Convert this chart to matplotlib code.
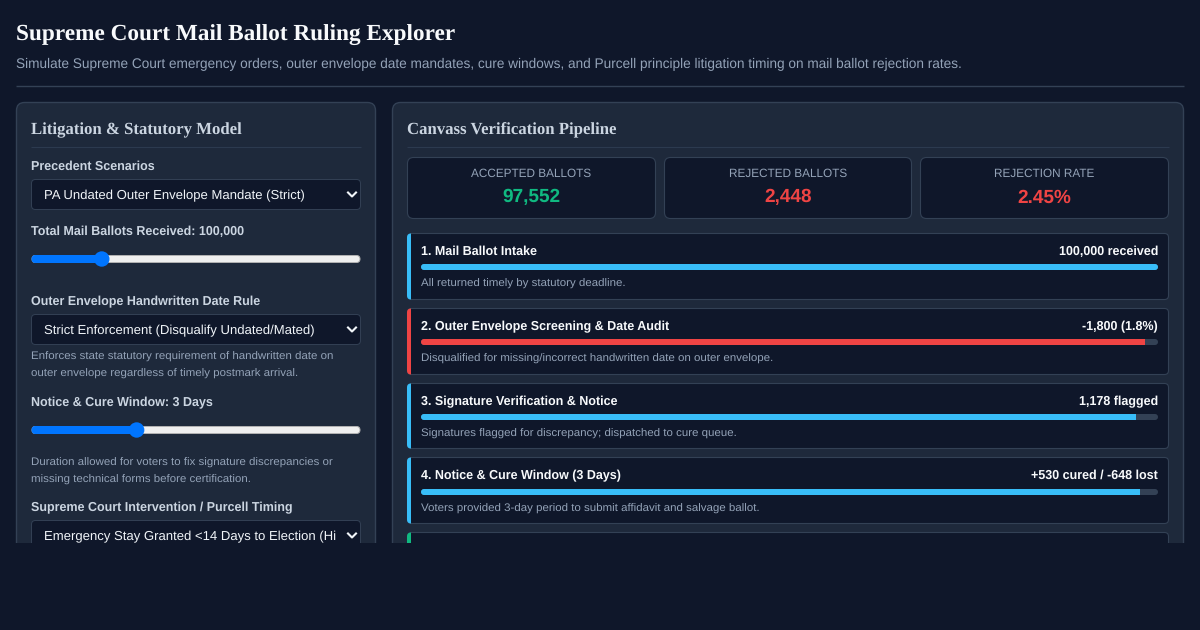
import matplotlib
matplotlib.use("Agg")
import matplotlib.pyplot as plt
from matplotlib.patches import Circle, FancyBboxPatch, Rectangle

plt.rcParams["text.hinting"] = "no_hinting"
plt.rcParams["text.hinting_factor"] = 8

BG = "#0f172a"
PANEL = "#1e293b"
BORDER = "#334155"
MUTED = "#94a3b8"
LABEL = "#cbd5e1"
WHITE = "#f8fafc"
BLUE = "#38bdf8"
RED = "#ef4444"
GREEN = "#10b981"
SANS = "Liberation Sans"
SERIF = "Liberation Serif"

TITLE = "Supreme Court Mail Ballot Ruling Explorer"
SUBTITLE = ("Simulate Supreme Court emergency orders, outer envelope date mandates, "
            "cure windows, and Purcell principle litigation timing on mail ballot rejection rates.")

kpi_labels = ["ACCEPTED BALLOTS", "REJECTED BALLOTS", "REJECTION RATE"]
kpi_values = ["97,552", "2,448", "2.45%"]
kpi_colors = [GREEN, RED, RED]

step_titles = ["1. Mail Ballot Intake", "2. Outer Envelope Screening & Date Audit",
               "3. Signature Verification & Notice", "4. Notice & Cure Window (3 Days)"]
step_results = ["100,000 received", "-1,800 (1.8%)", "1,178 flagged", "+530 cured / -648 lost"]
step_notes = ["All returned timely by statutory deadline.",
              "Disqualified for missing/incorrect handwritten date on outer envelope.",
              "Signatures flagged for discrepancy; dispatched to cure queue.",
              "Voters provided 3-day period to submit affidavit and salvage ballot."]
step_remaining = [100.0, 98.2, 97.02, 97.55]
step_colors = [BLUE, RED, BLUE, BLUE]

ballot_slider = 0.2
cure_slider = 0.311

LABEL_PX = 12.5
NOTE_PX = 11.5


def px(size):
    return size * 0.72


def box(ax, x0, y0, x1, y1, face, edge=BORDER, radius=6, lw=0.8, z=1):
    patch = FancyBboxPatch((x0, y0), x1 - x0, y1 - y0,
                           boxstyle=f"round,pad=0,rounding_size={radius}",
                           fc=face, ec=edge, lw=lw, zorder=z)
    ax.add_patch(patch)
    return patch


def label(ax, x, y, s, size=LABEL_PX, color=LABEL, weight="normal", family=SANS, ha="left"):
    ax.text(x, y, s, fontsize=px(size), color=color, fontweight=weight, family=family,
            ha=ha, va="baseline", zorder=5)


def rule(ax, x0, x1, y, lw=0.8, color=BORDER):
    ax.plot([x0, x1], [y, y], color=color, lw=lw, solid_capstyle="butt", zorder=2)


def select(ax, y0, s):
    box(ax, 31.5, y0, 360.5, y0 + 30, BG, radius=4, lw=0.7)
    label(ax, 44, y0 + 20, s, size=13.1, color="#f1f5f9")
    xc, yc = 352, y0 + 15
    ax.plot([xc - 4, xc, xc + 4], [yc - 2, yc + 2, yc - 2], color="#f1f5f9", lw=1.5, zorder=5)


def slider(ax, y, frac):
    box(ax, 32, y - 3.5, 360, y + 3.5, "#efefef", edge="#b2b2b2", radius=3.5, lw=0.7, z=2)
    xt = 39 + frac * 314
    box(ax, 32, y - 3.5, xt, y + 3.5, "#0075ff", edge="#0075ff", radius=3.5, lw=0.7, z=3)
    ax.add_patch(Circle((xt, y), 7.7, fc="#0075ff", ec="none", zorder=4))


fig = plt.figure(figsize=(12, 6.3), dpi=100, facecolor=BG)
ax = fig.add_axes([0, 0, 1, 1])
ax.set_xlim(0, 1200)
ax.set_ylim(630, 0)
ax.axis("off")

# header
label(ax, 16, 40.7, TITLE, size=23.2, color=WHITE, weight="bold", family=SERIF)
label(ax, 16, 68, SUBTITLE, size=13.58, color=MUTED)
rule(ax, 16, 1184, 85.5, lw=1)

# left panel
box(ax, 16.5, 102.5, 375.5, 640, PANEL, radius=8, lw=1)
label(ax, 31, 134, "Litigation & Statutory Model", size=16.7, color=LABEL, weight="bold", family=SERIF)
rule(ax, 31, 361, 146.5, color="#2c3a4f")

label(ax, 31, 170, "Precedent Scenarios", weight="bold")
select(ax, 179.5, "PA Undated Outer Envelope Mandate (Strict)")
label(ax, 31, 235, "Total Mail Ballots Received: 100,000", weight="bold")
slider(ax, 259, ballot_slider)

label(ax, 31, 305.5, "Outer Envelope Handwritten Date Rule", weight="bold")
select(ax, 314.5, "Strict Enforcement (Disqualify Undated/Mated)")
label(ax, 31, 359.5, "Enforces state statutory requirement of handwritten date on", size=NOTE_PX, color=MUTED)
label(ax, 31, 376.5, "outer envelope regardless of timely postmark arrival.", size=NOTE_PX, color=MUTED)

label(ax, 31, 406.5, "Notice & Cure Window: 3 Days", weight="bold")
slider(ax, 430, cure_slider)
label(ax, 31, 465.5, "Duration allowed for voters to fix signature discrepancies or", size=NOTE_PX, color=MUTED)
label(ax, 31, 482.5, "missing technical forms before certification.", size=NOTE_PX, color=MUTED)

label(ax, 31, 511.5, "Supreme Court Intervention / Purcell Timing", weight="bold")
select(ax, 520.5, "Emergency Stay Granted <14 Days to Election (Hi")

# right panel
box(ax, 392.5, 102.5, 1183.5, 640, PANEL, radius=8, lw=1)
label(ax, 407, 134, "Canvass Verification Pipeline", size=16.7, color=LABEL, weight="bold", family=SERIF)
rule(ax, 407, 1169, 146.5, color="#2c3a4f")

kpi_left = [407.5, 664.5, 920.5]
kpi_right = [655.5, 911.5, 1168.5]
for x0, x1, name, value, color in zip(kpi_left, kpi_right, kpi_labels, kpi_values, kpi_colors):
    box(ax, x0, 157.5, x1, 218.5, BG, radius=6, lw=0.8, z=2)
    label(ax, (x0 + x1) / 2, 177, name, size=11.7, color=MUTED, ha="center")
    label(ax, (x0 + x1) / 2, 202.5, value, size=19, color=color, weight="bold", ha="center")

# pipeline steps
card_tops = [233.5, 308.5, 383.5, 457.5]
card_bottoms = [299.5, 374.5, 448.5, 523.5]
bar_tops = [264, 339, 414, 489]
for i in range(4):
    top, bottom = card_tops[i], card_bottoms[i]
    box(ax, 407.5, top, 1168.5, bottom, BG, radius=4, lw=0.8, z=2)
    accent = box(ax, 407, top, 1168, bottom, step_colors[i], edge="none", radius=4, z=3)
    accent.set_clip_path(Rectangle((407, top - 1), 4, bottom - top + 2, transform=ax.transData))
    label(ax, 421, top + 21.7, step_titles[i], color=WHITE, weight="bold")
    label(ax, 1158, top + 21.7, step_results[i], color=WHITE, weight="bold", ha="right")
    bar_y = bar_tops[i]
    box(ax, 421, bar_y, 1158, bar_y + 6, BORDER, edge="none", radius=3, z=3)
    fill = box(ax, 421, bar_y, 1158, bar_y + 6, step_colors[i], edge="none", radius=3, z=4)
    fill.set_clip_path(Rectangle((421, bar_y - 1), 737 * step_remaining[i] / 100, 8, transform=ax.transData))
    label(ax, 421, bar_y + 22.5, step_notes[i], size=NOTE_PX, color=MUTED)

# fifth card, cut off by the page fold
box(ax, 407.5, 532.5, 1168.5, 600, BG, radius=4, lw=0.8, z=2)
fifth = box(ax, 407, 532.5, 1168, 600, GREEN, edge="none", radius=4, z=3)
fifth.set_clip_path(Rectangle((407, 531), 4, 70, transform=ax.transData))

ax.add_patch(Rectangle((0, 543), 1200, 87, fc=BG, ec="none", zorder=10))

fig.savefig("out.png", dpi=100, facecolor=BG)
